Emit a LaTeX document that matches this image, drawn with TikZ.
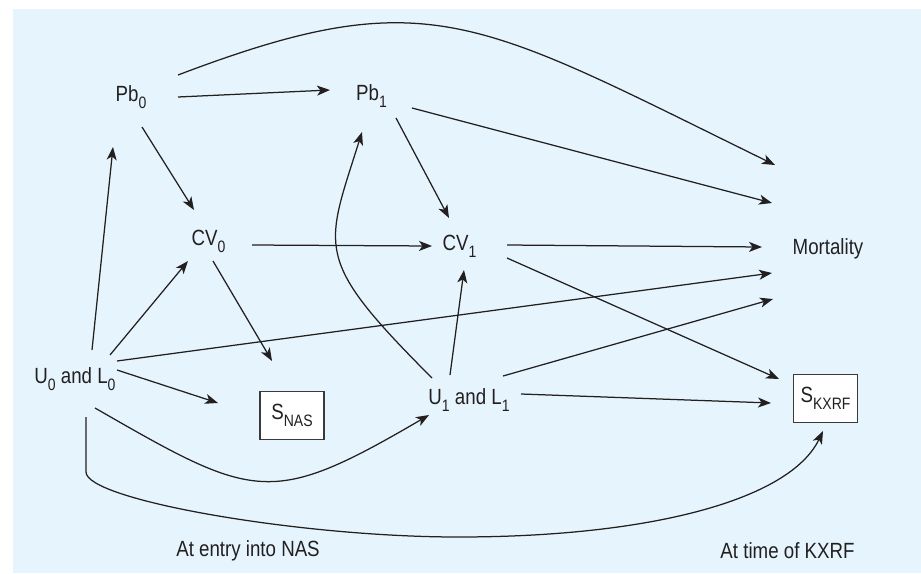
\documentclass[tikz,border=0pt]{standalone}
\usepackage{fontspec}
\setmainfont[FakeStretch=0.85]{Liberation Sans}
\usetikzlibrary{arrows.meta}
\definecolor{bgblue}{HTML}{E6F5FD}
\definecolor{ink}{HTML}{231F20}
\definecolor{boxline}{HTML}{3A3A3A}
\newcommand\lowsub[1]{\raisebox{-7pt}{\fontsize{16.5}{16.5}\selectfont #1}}
\begin{document}
\begin{tikzpicture}[x=1pt,y=-1pt,
  lbl/.style={inner sep=0pt,anchor=base,text=ink,font=\fontsize{22}{26}\selectfont},
  sbox/.style={draw=boxline,line width=1.4pt,fill=white,minimum width=64pt,minimum height=48pt,inner sep=0pt,text=ink,font=\fontsize{22}{26}\selectfont},
  conn/.style={draw=ink,line width=1.25pt,-{Stealth[length=13pt,width=10pt,inset=3.5pt]}}]
\useasboundingbox (0,0) rectangle (921,573);
\fill[bgblue] (13,9) rectangle (921,573);

\node[lbl] (pb0) at (131,101) {Pb\lowsub{0}};
\node[lbl] (pb1) at (371.5,100) {Pb\lowsub{1}};
\node[lbl] (cv0) at (208.5,245) {CV\lowsub{0}};
\node[lbl] (cv1) at (459.5,250) {CV\lowsub{1}};
\node[lbl] (mort) at (828,254) {Mortality};
\node[lbl] (u0) at (75,383) {U\lowsub{0} and L\lowsub{0}};
\node[lbl] (u1) at (469,404) {U\lowsub{1} and L\lowsub{1}};
\node[sbox] (snas) at (292,415.5) {S\lowsub{NAS}};
\node[sbox] (skxrf) at (825.5,398.5) {S\lowsub{KXRF}};
\node[lbl] (entry) at (248,556) {At entry into NAS};
\node[lbl] (time) at (787.5,558) {At time of KXRF};

\draw[conn] ([shift={(47,-4)}]pb0.base) -- ([shift={(-41.5,-10)}]pb1.base);
\draw[conn] ([shift={(47,-26)}]pb0.base) .. controls (428,-20) and (475,18) .. ([shift={(-53,-89)}]mort.base);
\draw[conn] ([shift={(11,26)}]pb0.base) -- ([shift={(-14.5,-35)}]cv0.base);
\draw[conn] ([shift={(17,-33)}]u0.base) -- ([shift={(-18,46)}]pb0.base);
\draw[conn] ([shift={(35,-28)}]u0.base) -- ([shift={(-20.5,16)}]cv0.base);
\draw[conn] ([shift={(43.5,0)}]cv0.base) -- ([shift={(-27.5,-4)}]cv1.base);
\draw[conn] ([shift={(4.5,16)}]cv0.base) -- ([shift={(-20,-54.5)}]snas.center);
\draw[conn] ([shift={(42,-13)}]u0.base) -- ([shift={(-74,-12.5)}]snas.center);
\draw[conn] ([shift={(42,-22)}]u0.base) -- ([shift={(-56,19)}]mort.base);
\draw[conn] ([shift={(20,25)}]u0.base) .. controls (255,500) and (270,508) .. ([shift={(-40,11)}]u1.base);
\draw[conn] ([shift={(-37,-26)}]u1.base) .. controls (312,258) and (325,250) .. ([shift={(-9.5,32)}]pb1.base);
\draw[conn] ([shift={(-19,-29)}]u1.base) -- ([shift={(4.5,20)}]cv1.base);
\draw[conn] ([shift={(24.5,18)}]pb1.base) -- ([shift={(-10.5,-32)}]cv1.base);
\draw[conn] ([shift={(40.5,8)}]pb1.base) -- ([shift={(-56,-51)}]mort.base);
\draw[conn] ([shift={(47.5,-5)}]cv1.base) -- ([shift={(-66,-7)}]mort.base);
\draw[conn] ([shift={(47.5,8)}]cv1.base) -- ([shift={(-46.5,-19.5)}]skxrf.center);
\draw[conn] ([shift={(34,-28)}]u1.base) -- ([shift={(-55,45)}]mort.base);
\draw[conn] ([shift={(52,-10)}]u1.base) -- ([shift={(-54.5,4.5)}]skxrf.center);
\draw[conn] ([shift={(11,34)}]u0.base) -- ++(0,55) .. controls (86,500) and (300,537) .. (458,537) .. controls (650,537) and (790,500) .. ([shift={(-2.5,32.5)}]skxrf.center);
\end{tikzpicture}
\end{document}
